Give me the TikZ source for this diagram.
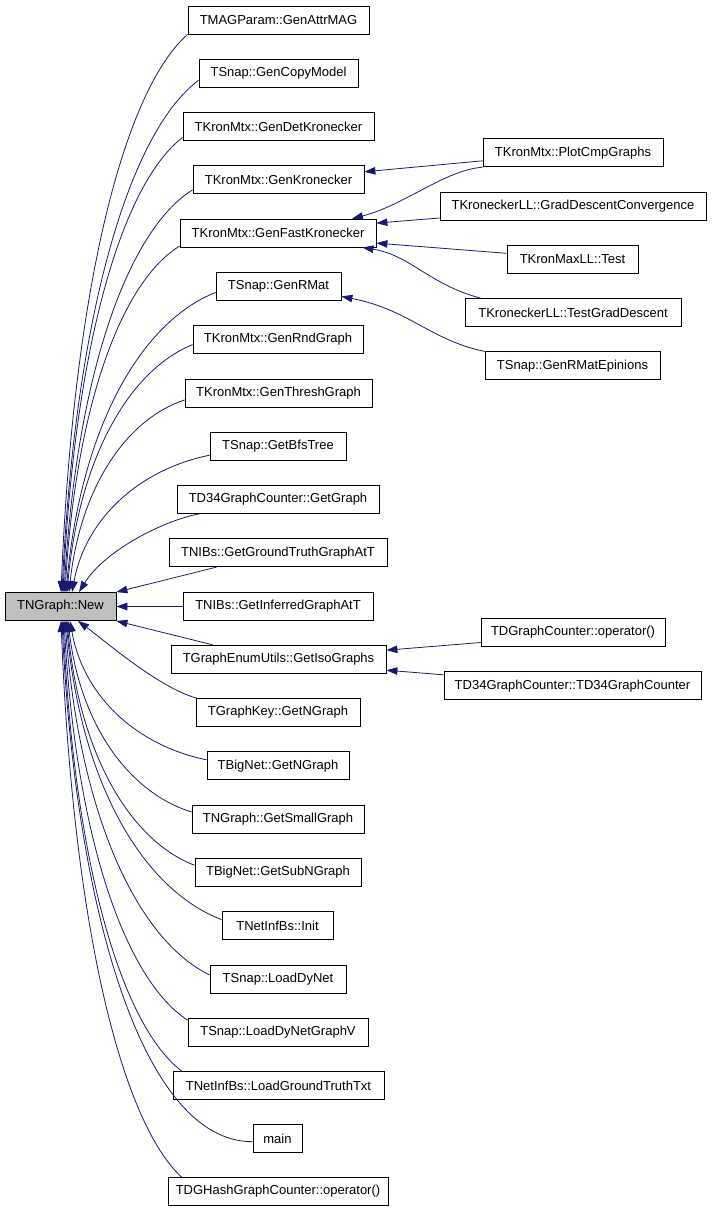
\documentclass[tikz,border=0pt]{standalone}
\usepackage{fontspec}
\setmainfont{Liberation Sans}
\usetikzlibrary{arrows.meta}
\definecolor{edgecol}{HTML}{191970}
\definecolor{newgray}{HTML}{BFBFBF}
\begin{document}
\begin{tikzpicture}[x=1pt,y=-1pt,
  box/.style={draw=black, line width=0.8pt, minimum height=28pt, inner sep=0pt,
    font=\fontsize{13}{15}\selectfont, fill=white},
  edge/.style={draw=edgecol, line width=0.8pt, -{Triangle[length=11pt,width=7.5pt]}}]
\useasboundingbox (0,0) rectangle (712,1213);
% main node
\node[box, fill=newgray, minimum width=111pt] (new) at (60.5,606.5) {TNGraph::New};
% middle column
\node[box, minimum width=181pt] (g0) at (278.5,20) {TMAGParam::GenAttrMAG};
\node[box, minimum width=159pt] (g1) at (278.5,73.3) {TSnap::GenCopyModel};
\node[box, minimum width=191pt] (g2) at (278.5,126.5) {TKronMtx::GenDetKronecker};
\node[box, minimum width=171pt] (g3) at (278.5,179.8) {TKronMtx::GenKronecker};
\node[box, minimum width=196pt] (g4) at (278,233.1) {TKronMtx::GenFastKronecker};
\node[box, minimum width=125pt] (g5) at (278.5,286.4) {TSnap::GenRMat};
\node[box, minimum width=170pt] (g6) at (278,339.6) {TKronMtx::GenRndGraph};
\node[box, minimum width=187pt] (g7) at (278.5,392.9) {TKronMtx::GenThreshGraph};
\node[box, minimum width=136pt] (g8) at (278,446.2) {TSnap::GetBfsTree};
\node[box, minimum width=202pt] (g9) at (278,499.4) {TD34GraphCounter::GetGraph};
\node[box, minimum width=218pt] (g10) at (278,552.7) {TNIBs::GetGroundTruthGraphAtT};
\node[box, minimum width=190pt] (g11) at (278,606.5) {TNIBs::GetInferredGraphAtT};
\node[box, minimum width=215pt] (g12) at (278.5,659.2) {TGraphEnumUtils::GetIsoGraphs};
\node[box, minimum width=164pt] (g13) at (278,712.5) {TGraphKey::GetNGraph};
\node[box, minimum width=142pt] (g14) at (278,765.8) {TBigNet::GetNGraph};
\node[box, minimum width=172pt] (g15) at (278,819) {TNGraph::GetSmallGraph};
\node[box, minimum width=166pt] (g16) at (278,872.3) {TBigNet::GetSubNGraph};
\node[box, minimum width=111pt] (g17) at (277.5,925.6) {TNetInfBs::Init};
\node[box, minimum width=136pt] (g18) at (278,978.9) {TSnap::LoadDyNet};
\node[box, minimum width=180pt] (g19) at (278,1032.1) {TSnap::LoadDyNetGraphV};
\node[box, minimum width=211pt] (g20) at (278.5,1085.4) {TNetInfBs::LoadGroundTruthTxt};
\node[box, minimum width=49pt] (g21) at (277.5,1138.7) {main};
\node[box, minimum width=220pt] (g22) at (278,1191.5) {TDGHashGraphCounter::operator()};
% right column
\node[box, minimum width=180pt] (r0) at (573,152.8) {TKronMtx::PlotCmpGraphs};
\node[box, minimum width=266pt] (r1) at (573,206) {TKroneckerLL::GradDescentConvergence};
\node[box, minimum width=131pt] (r2) at (572.5,259.3) {TKronMaxLL::Test};
\node[box, minimum width=216pt] (r3) at (573,312.5) {TKroneckerLL::TestGradDescent};
\node[box, minimum width=175pt] (r4) at (572.5,365.8) {TSnap::GenRMatEpinions};
\node[box, minimum width=184pt] (r5) at (573,632.5) {TDGraphCounter::operator()};
\node[box, minimum width=257pt] (r6) at (572.5,685.8) {TD34GraphCounter::TD34GraphCounter};
% edges into TNGraph::New from above
\draw[edge] (g0.south west) .. controls (124.5,90) and (73.7,285) .. ([xshift=0.5pt]new.north);
\draw[edge] ([yshift=-7pt]g1.west) .. controls (130.5,131) and (75.7,310) .. ([xshift=1.5pt]new.north);
\draw[edge] ([yshift=-11pt]g2.west) .. controls (123,183) and (75,342) .. ([xshift=2.5pt]new.north);
\draw[edge] ([yshift=-10pt]g3.west) .. controls (128.5,230) and (77,371) .. ([xshift=3.5pt]new.north);
\draw[edge] ([yshift=-13pt]g4.west) .. controls (122.5,281) and (76.5,402) .. ([xshift=4.5pt]new.north);
\draw[edge] ([yshift=-6pt]g5.west) .. controls (141,322) and (81,427) .. ([xshift=5.5pt]new.north);
\draw[edge] ([yshift=-5pt]g6.west) .. controls (130,370) and (79.6,456) .. ([xshift=6.5pt]new.north);
\draw[edge] ([yshift=-7pt]g7.west) .. controls (127,419) and (80.6,486) .. ([xshift=8.5pt]new.north);
\draw[edge] ([yshift=-9pt]g8.west) .. controls (141,469) and (86,517) .. ([xshift=11.5pt]new.north);
\draw[edge] ([xshift=23pt]g9.south west) .. controls (165,520) and (105,550) .. ([xshift=18.5pt]new.north);
\draw[edge] ([xshift=48pt]g10.south west) -- (new.north east);
\draw[edge] (g11.west) -- (new.east);
\draw[edge] ([xshift=42pt]g12.north west) -- (new.south east);
% edges into TNGraph::New from below
\draw[edge] ([xshift=1pt]g13.north west) .. controls (160,688) and (110,645) .. ([xshift=17.5pt]new.south);
\draw[edge] ([yshift=6pt]g14.west) .. controls (138.5,746) and (83.7,698) .. ([xshift=9.5pt]new.south);
\draw[edge] ([yshift=7pt]g15.west) .. controls (130,793) and (80.4,726.5) .. ([xshift=7.5pt]new.south);
\draw[edge] ([yshift=7pt]g16.west) .. controls (131,841) and (79.8,756) .. ([xshift=6.5pt]new.south);
\draw[edge] ([yshift=6pt]g17.west) .. controls (144,890) and (81.6,786) .. ([xshift=5.5pt]new.south);
\draw[edge] ([yshift=4pt]g18.west) .. controls (137.5,940) and (79.5,816) .. ([xshift=4.5pt]new.south);
\draw[edge] ([yshift=12pt]g19.west) .. controls (126,980) and (76.4,841) .. ([xshift=3.5pt]new.south);
\draw[edge] ([xshift=9pt]g20.north west) .. controls (122.5,1026) and (75,869) .. ([xshift=2.5pt]new.south);
\draw[edge] ([yshift=-3pt]g21.west) .. controls (140,1142) and (75,900) .. ([xshift=1.5pt]new.south);
\draw[edge] ([xshift=14pt]g22.north west) .. controls (121.5,1121.5) and (73,927) .. ([xshift=0.5pt]new.south);
% edges from right column
\draw[edge] ([yshift=-8pt]r0.west) -- ([yshift=8pt]g3.east);
\draw[edge] (r0.south west) .. controls (445,170) and (405,205) .. ([xshift=74pt]g4.north);
\draw[edge] ([yshift=-12pt]r1.west) -- ([yshift=10pt]g4.east);
\draw[edge] ([yshift=6pt]r2.west) -- ([yshift=-10pt]g4.east);
\draw[edge] ([xshift=16pt]r3.north west) .. controls (430,285) and (410,255) .. ([xshift=-14pt]g4.south east);
\draw[edge] (r4.north west) .. controls (430,340) and (410,310) .. ([yshift=-10pt]g5.east);
\draw[edge] ([yshift=-10pt]r5.west) -- ([yshift=9pt]g12.east);
\draw[edge] ([yshift=11pt]r6.west) -- ([yshift=-11pt]g12.east);
\end{tikzpicture}
\end{document}
